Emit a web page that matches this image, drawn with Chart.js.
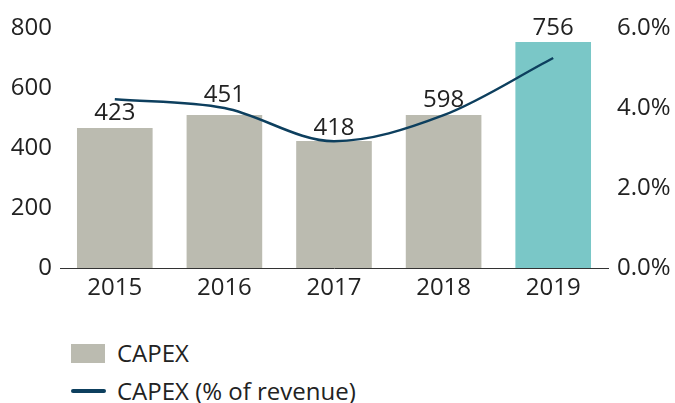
<!DOCTYPE html>
<html>
<head>
<meta charset="utf-8">
<script src="https://cdn.jsdelivr.net/npm/chart.js@4"></script>
<style>
  body { margin: 0; background: #fff; font-family: "Open Sans", sans-serif; color: #222; }
  #wrap { position: relative; width: 675px; height: 403px; }
  .legend-item { position: absolute; left: 71px; display: flex; align-items: center; font-size: 24px; line-height: 30px; }
  .swatch { width: 34px; height: 19px; background: #bbbbb0; margin-right: 12px; }
  .lineswatch { width: 35px; height: 4px; border-radius: 2px; background: #0d3f5e; margin-right: 11px; }
</style>
</head>
<body>
<div id="wrap">
  <canvas id="chart" width="675" height="310"></canvas>
  <div class="legend-item" style="top:338px"><span class="swatch"></span>CAPEX</div>
  <div class="legend-item" style="top:376px"><span class="lineswatch"></span>CAPEX (% of revenue)</div>
</div>
<script>
const years = ["2015", "2016", "2017", "2018", "2019"];
// bar heights as drawn and the numbers printed above them
const capexValues = [467, 510, 423, 510, 753];
const capexLabels = ["423", "451", "418", "598", "756"];
const capexPct = [4.22, 4.0, 3.17, 3.82, 5.25];
const barColors = ["#bbbbb0", "#bbbbb0", "#bbbbb0", "#bbbbb0", "#7ac7c7"];

const FONT = "'Open Sans', sans-serif";

// gap between bar top and its label (2016 is lifted clear of the line)
const labelGap = [8, 13, 6, 8, 7];

const barLabels = {
  id: "barLabels",
  afterDatasetsDraw(chart) {
    const ctx = chart.ctx;
    const meta = chart.getDatasetMeta(1);
    ctx.save();
    ctx.font = "24px " + FONT;
    ctx.fillStyle = "#222";
    ctx.textAlign = "center";
    ctx.textBaseline = "alphabetic";
    meta.data.forEach((bar, i) => {
      ctx.fillText(capexLabels[i], bar.x, bar.y - labelGap[i]);
    });
    ctx.restore();
  }
};

new Chart(document.getElementById("chart"), {
  data: {
    labels: years,
    datasets: [
      {
        type: "line",
        label: "CAPEX (% of revenue)",
        data: capexPct,
        yAxisID: "y1",
        borderColor: "#0d3f5e",
        borderWidth: 2.5,
        pointRadius: 0,
        cubicInterpolationMode: "monotone",
        order: 0
      },
      {
        type: "bar",
        label: "CAPEX",
        data: capexValues,
        yAxisID: "y",
        backgroundColor: barColors,
        categoryPercentage: 1,
        barPercentage: 0.69,
        order: 1
      }
    ]
  },
  options: {
    responsive: false,
    animation: false,
    layout: { padding: { top: 28 } },
    plugins: { legend: { display: false }, tooltip: { enabled: false } },
    scales: {
      x: {
        grid: { display: false, drawTicks: false },
        border: { display: true, color: "#333", width: 1 },
        ticks: { color: "#222", font: { family: FONT, size: 24 }, padding: 6 },
        afterFit: (s) => { s.height = 42; }
      },
      y: {
        position: "left",
        min: 0,
        max: 800,
        grid: { display: false, drawTicks: false },
        border: { display: false },
        ticks: { stepSize: 200, color: "#222", font: { family: FONT, size: 24 }, padding: 8 },
        afterFit: (s) => { s.width = 60; }
      },
      y1: {
        position: "right",
        min: 0,
        max: 6,
        grid: { display: false, drawTicks: false },
        border: { display: false },
        ticks: {
          stepSize: 2,
          color: "#222",
          font: { family: FONT, size: 24 },
          padding: 9,
          callback: (v) => v.toFixed(1) + "%"
        },
        afterFit: (s) => { s.width = 67; }
      }
    }
  },
  plugins: [barLabels]
});
</script>
</body>
</html>
